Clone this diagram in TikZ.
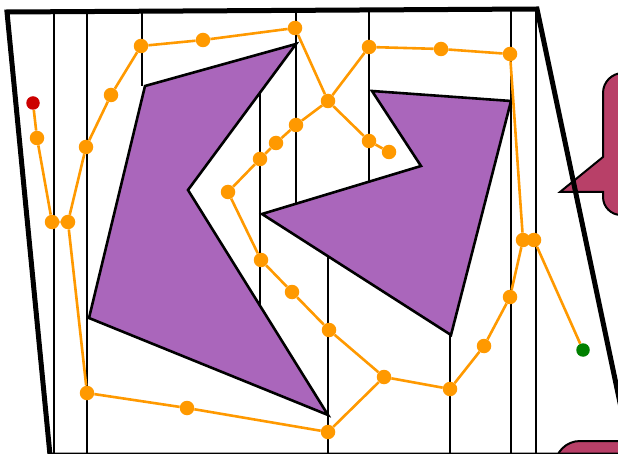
\documentclass[tikz,border=0pt]{standalone}
\definecolor{obst}{RGB}{170,102,187}
\definecolor{tree}{RGB}{255,153,0}
\definecolor{bubble}{RGB}{184,64,104}
\definecolor{startc}{RGB}{204,0,0}
\definecolor{goalc}{RGB}{0,128,0}
\tikzset{
  dot/.style={circle,fill=tree,inner sep=0pt,minimum size=14.5pt},
  edge/.style={draw=tree,line width=2.6pt},
  cell/.style={line width=2.6pt,black},
  obstacle/.style={fill=obst,draw=black,line width=2.6pt,line join=miter},
  callout/.style={fill=bubble,draw=black,line width=2pt},
}
\begin{document}
\begin{tikzpicture}[x=1pt,y=-1pt]
\useasboundingbox (0,0) rectangle (618,454);
\begin{scope}
\clip (0,0) rectangle (618,454);
% callout shapes
\draw[callout,rounded corners=20pt] (650,73) -- (603,73) [sharp corners] -- (603,157) -- (560,192) -- (603,192) [rounded corners=18pt] -- (603,215) [sharp corners] -- (650,215) -- cycle;
\draw[callout,rounded corners=25pt] (650,480) -- (555,480) -- (555,441) -- (650,441) -- cycle;
% cell lines
\draw[cell] (54,11) -- (54,454);
\draw[cell] (87,11) -- (87,454);
\draw[cell] (142,11) -- (142,86);
\draw[cell] (260,93) -- (260,305);
\draw[cell] (296,11) -- (296,204);
\draw[cell] (328,256) -- (328,454);
\draw[cell] (369,10) -- (369,182);
\draw[cell] (450,335) -- (450,454);
\draw[cell] (511,10) -- (511,454);
\draw[cell] (536,10) -- (536,454);
% obstacles
\draw[obstacle] (145,86) -- (296,44) -- (188,190) -- (328,415) -- (89,318) -- cycle;
\draw[obstacle] (372,91) -- (511,101) -- (451,335) -- (262,214) -- (421,166) -- cycle;
% boundary
\draw[line width=5pt,line join=miter] (7,12) -- (537,9) -- (631,455) -- (50,455) -- cycle;
% tree nodes
\node[circle,fill=startc,inner sep=0pt,minimum size=13.5pt] (s) at (33,103) {};
\node[circle,fill=goalc,inner sep=0pt,minimum size=13.5pt] (g) at (583,350) {};
\node[dot] (a1) at (37,138) {};
\node[dot] (a2) at (52,222) {};
\node[dot] (a3) at (68,222) {};
\node[dot] (a4) at (86,147) {};
\node[dot] (a5) at (111,95) {};
\node[dot] (a6) at (141,46) {};
\node[dot] (a7) at (203,40) {};
\node[dot] (a8) at (295,28) {};
\node[dot] (hub) at (328,101) {};
\node[dot] (b1) at (369,47) {};
\node[dot] (b2) at (441,49) {};
\node[dot] (b3) at (510,54) {};
\node[dot] (c1) at (523,240) {};
\node[dot] (c2) at (534,240) {};
\node[dot] (d1) at (369,141) {};
\node[dot] (d2) at (389,152) {};
\node[dot] (e1) at (296,125) {};
\node[dot] (e2) at (276,143) {};
\node[dot] (e3) at (260,159) {};
\node[dot] (e4) at (228,192) {};
\node[dot] (e5) at (261,260) {};
\node[dot] (e6) at (292,292) {};
\node[dot] (e7) at (329,330) {};
\node[dot] (f1) at (384,377) {};
\node[dot] (f2) at (328,432) {};
\node[dot] (f3) at (187,408) {};
\node[dot] (f4) at (87,393) {};
\node[dot] (h1) at (450,389) {};
\node[dot] (h2) at (484,346) {};
\node[dot] (h3) at (510,297) {};
% tree edges
\draw[edge] (s) -- (a1) -- (a2) -- (a3) -- (a4) -- (a5) -- (a6) -- (a7) -- (a8) -- (hub);
\draw[edge] (hub) -- (b1) -- (b2) -- (b3) -- (c1) -- (c2) -- (g);
\draw[edge] (hub) -- (d1) -- (d2);
\draw[edge] (hub) -- (e1) -- (e2) -- (e3) -- (e4) -- (e5) -- (e6) -- (e7) -- (f1);
\draw[edge] (f1) -- (f2) -- (f3) -- (f4) -- (a3);
\draw[edge] (f1) -- (h1) -- (h2) -- (h3) -- (c1);
\end{scope}
\end{tikzpicture}
\end{document}
